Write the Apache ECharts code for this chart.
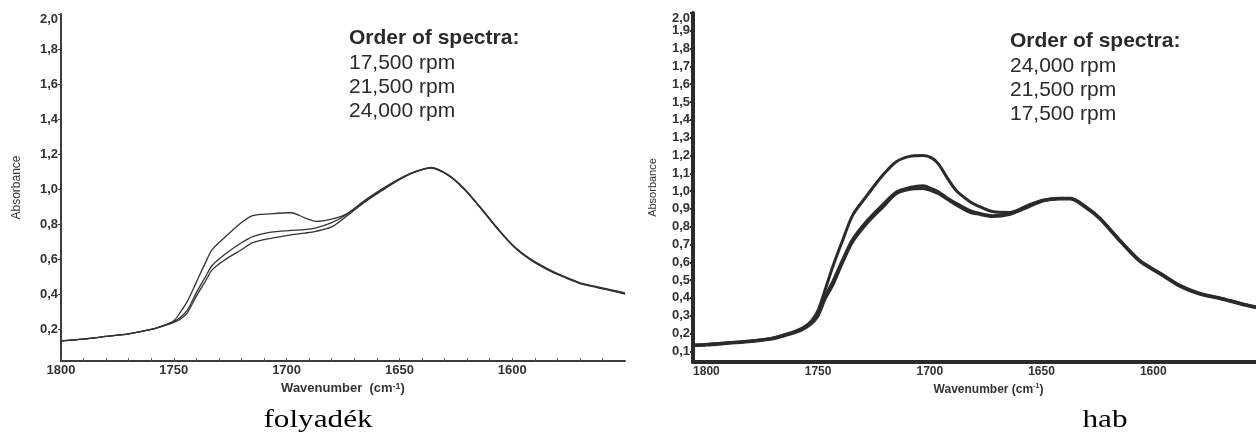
<!DOCTYPE html>
<html>
<head>
<meta charset="utf-8">
<script src="https://cdn.jsdelivr.net/npm/echarts@6/dist/echarts.min.js"></script>
<style>
html,body{margin:0;padding:0;background:#fff;}
#chart{width:1256px;height:446px;}
</style>
</head>
<body>
<div id="chart"></div>
<script>
// ---- data ----
var wnLeft = [1800,1790,1780,1770,1760,1755,1750,1747,1744,1740,1736,1733,1727,1720,1715,1707,1698,1692,1687,1680,1674,1665,1658,1650,1643,1636,1628,1621,1613,1606,1599,1592,1584,1577,1569,1562,1555,1550];
var left17500 = [0.135,0.145,0.16,0.175,0.2,0.22,0.25,0.30,0.36,0.47,0.58,0.655,0.73,0.81,0.85,0.86,0.866,0.837,0.817,0.83,0.855,0.94,1.0,1.06,1.1,1.125,1.08,1.0,0.88,0.77,0.67,0.6,0.54,0.5,0.46,0.44,0.42,0.405];
var left21500 = [0.135,0.145,0.16,0.175,0.2,0.22,0.245,0.27,0.31,0.41,0.5,0.565,0.632,0.695,0.73,0.755,0.765,0.77,0.78,0.81,0.85,0.935,0.995,1.058,1.1,1.122,1.078,0.998,0.878,0.768,0.672,0.603,0.545,0.503,0.463,0.443,0.423,0.408];
var left24000 = [0.135,0.145,0.16,0.175,0.2,0.218,0.24,0.26,0.295,0.39,0.475,0.54,0.6,0.655,0.695,0.72,0.74,0.75,0.76,0.785,0.84,0.93,0.99,1.055,1.098,1.12,1.076,0.996,0.876,0.766,0.668,0.598,0.538,0.498,0.458,0.438,0.418,0.402];

var wnRight = [1806,1800,1790,1780,1770,1763,1757,1753,1750,1747,1743.5,1739,1734.5,1728,1721,1715,1709,1703,1699,1696,1692,1688,1682,1679,1672,1664,1656,1649,1642,1637,1630,1624,1615,1606,1597,1588,1579,1570,1561,1554];
var right24000 = [0.135,0.138,0.148,0.158,0.175,0.2,0.23,0.27,0.33,0.44,0.574,0.724,0.865,0.977,1.09,1.165,1.195,1.2,1.185,1.15,1.07,1.0,0.94,0.92,0.885,0.88,0.92,0.95,0.96,0.96,0.91,0.85,0.725,0.61,0.54,0.47,0.425,0.4,0.37,0.35];
var right21500 = [0.135,0.138,0.148,0.158,0.175,0.2,0.228,0.265,0.315,0.405,0.49,0.615,0.73,0.835,0.925,0.995,1.02,1.03,1.012,0.995,0.96,0.93,0.89,0.878,0.862,0.875,0.915,0.948,0.958,0.958,0.908,0.848,0.723,0.608,0.538,0.468,0.423,0.398,0.368,0.348];
var right17500 = [0.132,0.135,0.145,0.155,0.17,0.195,0.222,0.255,0.3,0.39,0.47,0.6,0.715,0.82,0.91,0.985,1.01,1.015,1.0,0.985,0.952,0.92,0.88,0.872,0.857,0.87,0.91,0.945,0.955,0.955,0.905,0.845,0.72,0.605,0.535,0.465,0.42,0.395,0.365,0.345];

var leftYTicks = [0.2,0.4,0.6,0.8,1.0,1.2,1.4,1.6,1.8,2.0];
var rightYTicks = [0.1,0.2,0.3,0.4,0.5,0.6,0.7,0.8,0.9,1.0,1.1,1.2,1.3,1.4,1.5,1.6,1.7,1.8,1.9,2.0];
var xLabelTicks = [1800,1750,1700,1650,1600];
var leftXMinorTicks = [1800,1790,1780,1770,1760,1750,1740,1730,1720,1710,1700,1690,1680,1670,1660,1650,1640,1630,1620,1610,1600,1590,1580,1570,1560];

var leftLegend = ['Order of spectra:','17,500 rpm','21,500 rpm','24,000 rpm'];
var rightLegend = ['Order of spectra:','24,000 rpm','21,500 rpm','17,500 rpm'];
var captions = ['folyadék','hab'];

function pairs(xs, ys){ return xs.map(function(x,i){ return [x, ys[i]]; }); }
function comma(v){ return v.toFixed(1).replace('.', ','); }
function plain(v){ return String(Math.round(v)); }

var NARROW = "'Liberation Sans Narrow','Liberation Sans',Arial,sans-serif";
var SANS = "'Liberation Sans',Arial,sans-serif";

var chart = echarts.init(document.getElementById('chart'), null, {renderer:'canvas'});

function legendTexts(lines, x, ys){
  return lines.map(function(t,i){
    return {type:'text', x:x, y:ys[i], style:{text:t, fill:'#2a2a2a',
      font:(i===0?'bold ':'')+'21px '+SANS, textVerticalAlign:'middle', textAlign:'left'}};
  });
}

var option = {
  animation:false,
  backgroundColor:'#fff',
  grid:[
    {left:61, right:631, top:14, bottom:85},
    {left:693, right:0, top:13, bottom:84}
  ],
  xAxis:[
    {gridIndex:0, type:'value', inverse:true, min:1550, max:1800,
     axisLine:{show:true, onZero:false, lineStyle:{color:'#3c3c3c', width:2}},
     axisTick:{show:true, inside:true, length:3, customValues:leftXMinorTicks, lineStyle:{color:'#555', width:1}},
     axisLabel:{customValues:xLabelTicks, formatter:plain, margin:3, color:'#333', fontWeight:'bold', fontSize:13, fontFamily:NARROW},
     splitLine:{show:false},
     name:'{a|Wavenumber  (cm}{s|-1}{a|)}', nameLocation:'middle', nameGap:14,
     nameTextStyle:{rich:{a:{fontFamily:NARROW, fontWeight:'bold', fontSize:13, color:'#333', lineHeight:14},
                          s:{fontFamily:NARROW, fontWeight:'bold', fontSize:9, color:'#333', verticalAlign:'top', lineHeight:9}}}
    },
    {gridIndex:1, type:'value', inverse:true, min:1554, max:1806,
     axisLine:{show:true, onZero:false, lineStyle:{color:'#2b2b2b', width:4}},
     axisTick:{show:false, customValues:xLabelTicks},
     axisLabel:{customValues:xLabelTicks, formatter:plain, margin:4, color:'#333', fontWeight:'bold', fontSize:12, fontFamily:SANS},
     splitLine:{show:false},
     name:'{a|Wavenumber (cm}{s|-1}{a|)}', nameLocation:'middle', nameGap:12,
     nameTextStyle:{padding:[0,0,0,28], rich:{a:{fontFamily:SANS, fontWeight:'bold', fontSize:12, color:'#333', lineHeight:14},
                          s:{fontFamily:SANS, fontWeight:'bold', fontSize:7, color:'#333', verticalAlign:'top', lineHeight:7}}}
    }
  ],
  yAxis:[
    {gridIndex:0, type:'value', min:0.02, max:2.0,
     axisLine:{show:true, onZero:false, lineStyle:{color:'#3c3c3c', width:2}},
     axisTick:{show:true, length:3, customValues:leftYTicks, lineStyle:{color:'#444'}},
     axisLabel:{customValues:leftYTicks, formatter:comma, margin:3, color:'#333', fontWeight:'bold', fontSize:13, lineHeight:11, fontFamily:NARROW,
                verticalAlignMaxLabel:'top', hideOverlap:false},
     splitLine:{show:false},
     name:'Absorbance', nameLocation:'middle', nameGap:38,
     nameTextStyle:{fontFamily:NARROW, fontSize:12, color:'#333'}
    },
    {gridIndex:1, type:'value', min:0.04, max:2.0,
     axisLine:{show:true, onZero:false, lineStyle:{color:'#2b2b2b', width:4}},
     axisTick:{show:true, length:3, customValues:rightYTicks, lineStyle:{color:'#2b2b2b', width:2}},
     axisLabel:{customValues:rightYTicks, formatter:comma, margin:3, color:'#333', fontWeight:'bold', fontSize:13, lineHeight:10, fontFamily:NARROW,
                verticalAlignMaxLabel:'top', hideOverlap:false},
     splitLine:{show:false},
     name:'Absorbance', nameLocation:'middle', nameGap:35,
     nameTextStyle:{fontFamily:NARROW, fontSize:11, color:'#333'}
    }
  ],
  series:[
    {type:'line', xAxisIndex:0, yAxisIndex:0, data:pairs(wnLeft,left17500), smooth:0.3, showSymbol:false, lineStyle:{color:'#333', width:1.3}},
    {type:'line', xAxisIndex:0, yAxisIndex:0, data:pairs(wnLeft,left21500), smooth:0.3, showSymbol:false, lineStyle:{color:'#333', width:1.3}},
    {type:'line', xAxisIndex:0, yAxisIndex:0, data:pairs(wnLeft,left24000), smooth:0.3, showSymbol:false, lineStyle:{color:'#333', width:1.3}},
    {type:'line', xAxisIndex:1, yAxisIndex:1, data:pairs(wnRight,right24000), smooth:0.3, showSymbol:false, lineStyle:{color:'#2b2b2b', width:3}},
    {type:'line', xAxisIndex:1, yAxisIndex:1, data:pairs(wnRight,right21500), smooth:0.3, showSymbol:false, lineStyle:{color:'#2b2b2b', width:3}},
    {type:'line', xAxisIndex:1, yAxisIndex:1, data:pairs(wnRight,right17500), smooth:0.3, showSymbol:false, lineStyle:{color:'#2b2b2b', width:3}}
  ],
  graphic: legendTexts(leftLegend, 349, [38.5,63.5,87.5,111.5])
    .concat(legendTexts(rightLegend, 1010, [41.5,66,90,114]))
    .concat([
      {type:'text', x:318, y:433, scaleX:1.2,
       style:{text:captions[0], font:'26px "Liberation Serif","Times New Roman",serif', fill:'#000', textAlign:'center', textVerticalAlign:'bottom'}},
      {type:'text', x:1105, y:433, scaleX:1.2,
       style:{text:captions[1], font:'26px "Liberation Serif","Times New Roman",serif', fill:'#000', textAlign:'center', textVerticalAlign:'bottom'}}
    ])
};
chart.setOption(option);
</script>
</body>
</html>
